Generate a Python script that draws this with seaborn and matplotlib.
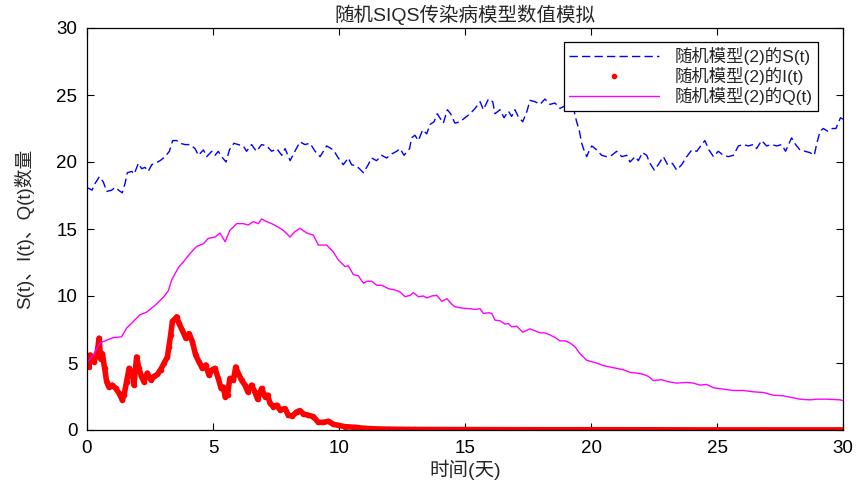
import matplotlib
matplotlib.use("Agg")
import matplotlib.pyplot as plt
import seaborn as sns
from matplotlib.lines import Line2D

# ---------------- data ----------------
t_s = [0.0, 0.2, 0.32, 0.49, 0.65, 0.78, 0.98, 1.11, 1.25, 1.40, 1.51, 1.60, 1.78, 1.87, 2.04, 2.17,
       2.30, 2.43, 2.57, 2.70, 2.90, 3.10, 3.27, 3.40, 3.56, 3.69, 3.89, 4.09, 4.29, 4.42, 4.62, 4.75,
       4.95, 5.08, 5.21, 5.34, 5.52, 5.65, 5.83, 6.00, 6.20, 6.33, 6.53, 6.72, 6.93, 7.13, 7.33, 7.53,
       7.73, 7.86, 8.06, 8.25, 8.45, 8.65, 8.85, 9.05, 9.25, 9.51, 9.78, 9.97, 10.17, 10.37, 10.50,
       10.70, 10.97, 11.16, 11.29, 11.49, 11.69, 11.89, 12.09, 12.29, 12.42, 12.58, 12.80, 12.88, 13.01,
       13.15, 13.32, 13.48, 13.61, 13.77, 13.90, 14.00, 14.14, 14.30, 14.43, 14.60, 14.80, 15.00, 15.20,
       15.40, 15.60, 15.73, 15.93, 16.10, 16.19, 16.39, 16.55, 16.72, 16.85, 16.98, 17.11, 17.29, 17.46,
       17.58, 17.78, 17.98, 18.17, 18.37, 18.57, 18.77, 18.97, 19.17, 19.33, 19.43, 19.54, 19.63, 19.72,
       19.83, 19.94, 20.03, 20.23, 20.42, 20.62, 20.82, 21.02, 21.22, 21.42, 21.55, 21.75, 21.88, 22.04,
       22.21, 22.34, 22.51, 22.67, 22.87, 23.04, 23.23, 23.40, 23.60, 23.80, 24.00, 24.20, 24.39, 24.52,
       24.68, 24.86, 25.05, 25.25, 25.45, 25.65, 25.85, 26.05, 26.24, 26.44, 26.57, 26.77, 26.97, 27.17,
       27.37, 27.57, 27.72, 27.96, 28.12, 28.29, 28.49, 28.69, 28.86, 28.95, 29.09, 29.22, 29.39, 29.58,
       29.72, 29.81, 29.90, 30.00]
s_vals = [18.1, 17.9, 18.4, 18.9, 18.5, 17.8, 17.9, 18.1, 17.9, 17.7, 18.4, 19.2, 19.3, 19.1, 19.9, 19.5,
          19.6, 19.3, 19.8, 19.9, 20.1, 20.4, 20.8, 21.6, 21.6, 21.4, 21.3, 21.3, 21.0, 20.5, 20.9, 20.4,
          20.8, 20.5, 20.8, 20.4, 20.0, 20.9, 21.4, 21.3, 21.2, 20.8, 21.3, 20.8, 21.3, 21.2, 20.8, 21.0,
          20.5, 21.0, 20.1, 20.8, 21.5, 21.3, 21.4, 20.8, 20.4, 21.2, 20.9, 20.3, 19.8, 20.3, 19.8,
          19.7, 19.2, 19.8, 20.3, 20.1, 20.5, 20.3, 20.6, 20.8, 21.0, 20.5, 21.0, 21.8, 22.0,
          21.6, 22.4, 22.1, 22.8, 23.0, 23.6, 23.3, 22.9, 23.9, 23.6, 22.9, 23.0, 23.3, 23.6,
          24.0, 24.5, 23.9, 24.7, 24.5, 23.6, 23.9, 23.3, 23.8, 23.4, 23.9, 23.4, 23.0, 23.8,
          24.6, 24.5, 24.3, 24.7, 24.3, 24.4, 24.0, 24.2, 24.1, 23.8, 23.0, 22.3, 21.4, 20.9,
          20.4, 20.9, 21.2, 20.9, 20.5, 20.4, 20.5, 20.8, 20.4, 20.5, 20.0, 20.4, 20.1, 20.7,
          20.5, 19.9, 19.4, 19.8, 20.4, 19.8, 19.9, 19.4, 19.8, 20.4, 20.9, 20.8, 21.3, 21.6,
          20.9, 20.4, 20.8, 20.5, 20.4, 20.5, 21.2, 21.3, 21.2, 21.3, 21.0, 21.6, 21.2, 21.3,
          21.2, 21.3, 20.8, 21.8, 21.3, 20.9, 20.8, 20.7, 20.5, 21.3, 22.3, 22.5, 22.3, 22.5,
          22.5, 22.9, 23.3, 23.2]

t_i = [0.00, 0.08, 0.12, 0.28, 0.41, 0.48, 0.54, 0.61, 0.70, 0.78, 0.87, 1.00, 1.14, 1.27, 1.40, 1.47,
       1.57, 1.67, 1.80, 1.86, 1.97, 2.06, 2.16, 2.26, 2.39, 2.53, 2.66, 2.79, 2.92, 3.06, 3.19, 3.25,
       3.32, 3.39, 3.52, 3.56, 3.65, 3.78, 3.92, 4.05, 4.18, 4.31, 4.44, 4.58, 4.71, 4.84, 4.97, 5.08,
       5.21, 5.32, 5.41, 5.48, 5.58, 5.61, 5.67, 5.81, 5.90, 6.01, 6.14, 6.27, 6.38, 6.53, 6.66, 6.77,
       6.93, 7.06, 7.17, 7.26, 7.39, 7.53, 7.66, 7.86, 7.99, 8.15, 8.32, 8.45, 8.59, 8.78, 8.98, 9.18,
       9.38, 9.58, 9.78, 9.97, 10.24, 10.63, 11.03, 11.5, 12.0, 13.0, 15.0, 18.0, 21.0, 24.0, 27.0, 30.0]
i_vals = [5.0, 4.7, 5.6, 5.1, 5.85, 6.85, 5.3, 5.7, 4.6, 3.6, 3.2, 3.35, 3.1, 2.75, 2.25, 2.6,
          3.6, 4.6, 4.2, 3.35, 5.45, 4.6, 4.0, 3.6, 4.25, 3.75, 4.0, 4.15, 4.5, 5.0, 5.45, 6.2,
          7.1, 8.1, 8.35, 8.45, 7.95, 7.45, 6.85, 7.2, 6.6, 5.6, 5.1, 4.6, 4.85, 4.1, 4.5, 4.6,
          3.85, 3.1, 3.2, 2.5, 2.6, 3.1, 3.85, 3.7, 4.7, 4.2, 3.7, 3.35, 2.85, 3.35, 2.85, 2.3,
          3.1, 2.5, 2.6, 2.0, 1.75, 1.85, 1.5, 1.6, 1.1, 1.05, 1.35, 1.45, 1.2, 1.1, 1.0, 0.57,
          0.57, 0.65, 0.42, 0.35, 0.25, 0.2, 0.12, 0.08, 0.06, 0.04, 0.03, 0.02, 0.02, 0.01, 0.01, 0.01]

t_q = [0.00, 0.25, 0.52, 0.78, 1.05, 1.37, 1.57, 1.84, 2.10, 2.37, 2.70, 3.03, 3.23, 3.36, 3.62, 3.89,
       4.15, 4.35, 4.62, 4.81, 5.08, 5.28, 5.48, 5.67, 5.94, 6.20, 6.40, 6.60, 6.80, 6.93, 7.13, 7.33,
       7.53, 7.79, 8.06, 8.25, 8.45, 8.72, 8.98, 9.18, 9.51, 9.77, 9.97, 10.24, 10.37, 10.57, 10.77,
       10.97, 11.10, 11.30, 11.50, 11.69, 11.96, 12.22, 12.42, 12.62, 12.83, 12.95, 13.15, 13.35, 13.49,
       13.68, 13.88, 14.08, 14.28, 14.47, 14.60, 14.87, 15.20, 15.40, 15.60, 15.73, 15.93, 16.06, 16.19,
       16.39, 16.59, 16.72, 16.85, 17.05, 17.29, 17.58, 17.78, 17.98, 18.17, 18.37, 18.57, 18.77, 18.97,
       19.17, 19.37, 19.56, 19.83, 20.22, 20.49, 20.75, 21.02, 21.28, 21.55, 21.81, 22.08, 22.28, 22.47,
       22.80, 23.07, 23.40, 23.80, 24.06, 24.33, 24.59, 24.86, 25.25, 25.65, 26.04, 26.44, 26.84, 27.23,
       27.63, 27.90, 28.29, 28.69, 28.96, 29.36, 29.88, 30.00]
q_vals = [5.0, 5.6, 6.5, 6.7, 6.9, 6.95, 7.6, 8.1, 8.6, 8.8, 9.3, 9.9, 10.4, 11.2, 12.1, 12.7,
          13.3, 13.7, 13.9, 14.3, 14.4, 14.7, 14.05, 14.9, 15.4, 15.4, 15.3, 15.55, 15.4, 15.75, 15.55, 15.4,
          15.2, 14.9, 14.4, 14.8, 15.05, 14.7, 14.55, 13.8, 13.8, 13.3, 12.7, 12.2, 12.25, 11.6, 11.5,
          10.95, 11.1, 11.1, 10.8, 10.8, 10.55, 10.45, 10.3, 9.95, 10.05, 10.25, 9.95, 10.0, 9.85,
          10.0, 10.05, 9.6, 9.8, 9.4, 9.2, 9.1, 9.05, 9.0, 9.05, 8.7, 8.75, 8.7, 8.2,
          8.15, 7.9, 7.95, 7.7, 7.75, 7.3, 7.55, 7.4, 7.25, 7.25, 7.1, 6.9, 6.65, 6.65,
          6.5, 6.2, 5.7, 5.2, 5.0, 4.8, 4.7, 4.6, 4.5, 4.3, 4.25, 4.15, 4.0, 3.7,
          3.75, 3.6, 3.5, 3.55, 3.5, 3.35, 3.4, 3.15, 3.05, 2.95, 2.95, 2.85, 2.8, 2.6,
          2.55, 2.45, 2.3, 2.25, 2.3, 2.3, 2.25, 2.2]

labels = ["随机模型(2)的S(t)", "随机模型(2)的I(t)", "随机模型(2)的Q(t)"]
title = "随机SIQS传染病模型数值模拟"
xlabel = "时间(天)"
ylabel = "S(t)、I(t)、Q(t)数量"
ticks = [0, 5, 10, 15, 20, 25, 30]

# ---------------- style ----------------
sns.set_style("ticks", {"xtick.direction": "in", "ytick.direction": "in"})
plt.rcParams["font.family"] = ["Liberation Sans", "Noto Sans CJK SC", "DejaVu Sans"]
plt.rcParams["axes.unicode_minus"] = False

fig = plt.figure(figsize=(8.67, 4.87), dpi=100)
ax = fig.add_axes([87 / 867, 57 / 487, 756 / 867, 402 / 487])

blue, red, magenta = "#0000ff", "#ff0000", "#ff00ff"

sns.lineplot(x=t_s, y=s_vals, ax=ax, color=blue, lw=1.0, linestyle=(0, (6, 3)))
sns.lineplot(x=t_i, y=i_vals, ax=ax, color=red, lw=4.0, solid_capstyle="round",
             solid_joinstyle="round", marker="o", markersize=4, markeredgewidth=0)
sns.lineplot(x=t_q, y=q_vals, ax=ax, color=magenta, lw=1.0)

ax.set_xlim(0, 30)
ax.set_ylim(0, 30)
ax.set_xticks(ticks)
ax.set_yticks(ticks)
ax.tick_params(direction="in", top=True, right=True, length=5, width=0.8,
               labelsize=13.5, colors="black", pad=7)
for sp in ax.spines.values():
    sp.set_visible(True)
    sp.set_color("black")
    sp.set_linewidth(0.9)

ax.set_title(title, fontsize=14, pad=5)
ax.set_xlabel(xlabel, fontsize=14, labelpad=2)
ax.set_ylabel(ylabel, fontsize=13.5, labelpad=16)

handles = [
    Line2D([], [], color=blue, lw=1.0, linestyle=(0, (6, 3))),
    Line2D([], [], color=red, linestyle="none", marker=".", markersize=6),
    Line2D([], [], color=magenta, lw=1.0),
]
leg = ax.legend(handles, labels, loc="upper right", bbox_to_anchor=(0.967, 0.965),
                borderaxespad=0, frameon=True, fancybox=False, edgecolor="black",
                framealpha=1, fontsize=12.5, handlelength=5.2, labelspacing=0.12,
                borderpad=0.3, handletextpad=0.9)
leg.get_frame().set_linewidth(0.9)

fig.savefig("out.png", dpi=100)
